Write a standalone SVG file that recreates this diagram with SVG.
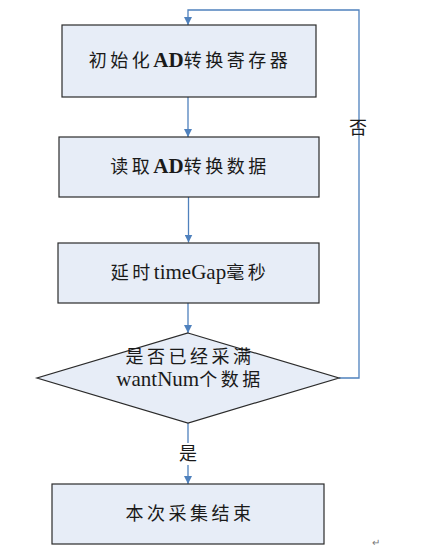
<svg xmlns="http://www.w3.org/2000/svg" width="421" height="555" viewBox="0 0 421 555">
<style>
.box{fill:#E7EDF7;stroke:#2b2b2b;stroke-width:1.2}
.t{font-family:"Liberation Serif","Noto Sans CJK SC",serif;font-size:18px;fill:#1a1a1a;letter-spacing:3.5px}
.b{font-weight:bold}
.lat{font-size:21px;letter-spacing:0}
.lbl{font-family:"Liberation Serif","Noto Sans CJK SC",serif;font-size:18px;fill:#1a1a1a}
.ln{fill:none;stroke:#4F81BD;stroke-width:1.3}
</style>
<defs>
<marker id="ah" viewBox="0 0 10 10" refX="10" refY="5" markerWidth="8" markerHeight="8" markerUnits="userSpaceOnUse" orient="auto">
<path d="M0,0 L10,5 L0,10 z" fill="#4F81BD"/>
</marker>
</defs>
<rect width="421" height="555" fill="#ffffff"/>
<g id="connectors">
<path class="ln" d="M188,97 V137" marker-end="url(#ah)"/>
<path class="ln" d="M188.5,197 V242.5" marker-end="url(#ah)"/>
<path class="ln" d="M188,303 V333" marker-end="url(#ah)"/>
<path class="ln" d="M188,423 V443"/>
<path class="ln" d="M188,465 V484" marker-end="url(#ah)"/>
<path class="ln" d="M339,378 H359 V10 H188 V25" marker-end="url(#ah)"/>
<text class="lbl" x="358" y="134" text-anchor="middle">否</text>
<text class="lbl" x="188" y="460" text-anchor="middle">是</text>
</g>
<g id="n1">
<rect class="box" x="62" y="25" width="254" height="72"/>
<text class="t" x="190" y="67" text-anchor="middle">初始化<tspan class="b lat" letter-spacing="1">AD</tspan>转换寄存器</text>
</g>
<g id="n2">
<rect class="box" x="59" y="137" width="260" height="60"/>
<text class="t" x="190" y="173" text-anchor="middle">读取<tspan class="b lat" letter-spacing="1">AD</tspan>转换数据</text>
</g>
<g id="n3">
<rect class="box" x="58" y="243" width="261" height="60"/>
<text class="t" x="190" y="279" text-anchor="middle">延时<tspan class="lat">timeGap</tspan>毫秒</text>
</g>
<g id="n4">
<path class="box" d="M188,333 L339,378 L188,423 L37,378 Z"/>
<text class="t" x="190" y="363" text-anchor="middle">是否已经采满</text>
<text class="t" x="190" y="386" text-anchor="middle"><tspan class="lat">wantNum</tspan>个数据</text>
</g>
<g id="n5">
<rect class="box" x="52" y="484" width="272" height="60"/>
<text class="t" x="190" y="520" text-anchor="middle">本次采集结束</text>
</g>
<text x="376" y="546" font-family="Liberation Sans, sans-serif" font-size="10" fill="#777" text-anchor="middle">↵</text>
</svg>
